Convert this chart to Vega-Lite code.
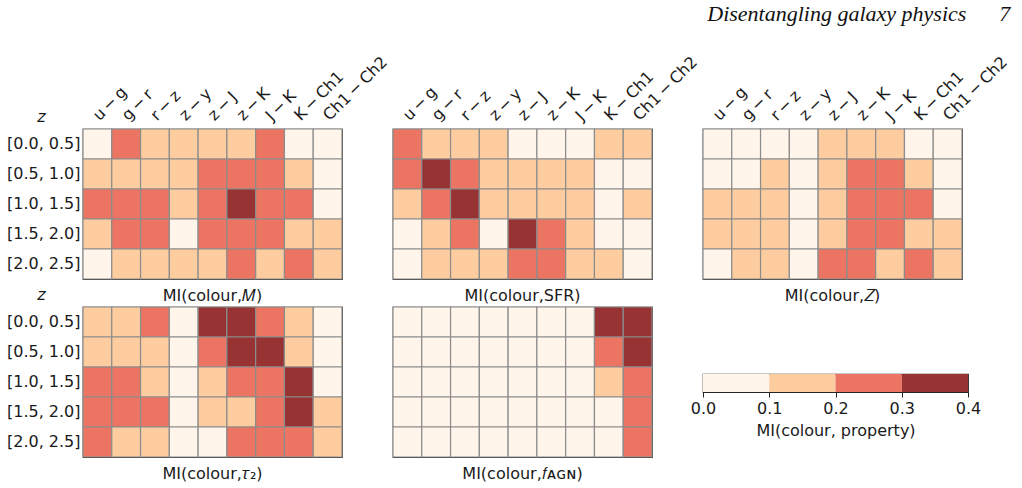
{
  "$schema": "https://vega.github.io/schema/vega-lite/v6.json",
  "padding": {"top": 2, "left": 5, "right": 5, "bottom": 5},
  "title": {"text": "Disentangling galaxy physics\u00a0\u00a0\u00a0\u00a0\u00a0\u00a07", "anchor": "end", "frame": "bounds", "font": "Liberation Serif", "fontStyle": "italic", "fontSize": 22, "fontWeight": "normal", "color": "#111", "offset": 27},
  "datasets": {
    "M": [
      {"z":"[0.0, 0.5]","c":"u−g","mi":0.05},{"z":"[0.0, 0.5]","c":"g−r","mi":0.25},{"z":"[0.0, 0.5]","c":"r−z","mi":0.15},{"z":"[0.0, 0.5]","c":"z−y","mi":0.15},{"z":"[0.0, 0.5]","c":"z−J","mi":0.15},{"z":"[0.0, 0.5]","c":"z−K","mi":0.15},{"z":"[0.0, 0.5]","c":"J−K","mi":0.25},{"z":"[0.0, 0.5]","c":"K−Ch1","mi":0.05},{"z":"[0.0, 0.5]","c":"Ch1−Ch2","mi":0.05},
      {"z":"[0.5, 1.0]","c":"u−g","mi":0.15},{"z":"[0.5, 1.0]","c":"g−r","mi":0.15},{"z":"[0.5, 1.0]","c":"r−z","mi":0.15},{"z":"[0.5, 1.0]","c":"z−y","mi":0.15},{"z":"[0.5, 1.0]","c":"z−J","mi":0.25},{"z":"[0.5, 1.0]","c":"z−K","mi":0.25},{"z":"[0.5, 1.0]","c":"J−K","mi":0.25},{"z":"[0.5, 1.0]","c":"K−Ch1","mi":0.15},{"z":"[0.5, 1.0]","c":"Ch1−Ch2","mi":0.05},
      {"z":"[1.0, 1.5]","c":"u−g","mi":0.25},{"z":"[1.0, 1.5]","c":"g−r","mi":0.25},{"z":"[1.0, 1.5]","c":"r−z","mi":0.25},{"z":"[1.0, 1.5]","c":"z−y","mi":0.15},{"z":"[1.0, 1.5]","c":"z−J","mi":0.25},{"z":"[1.0, 1.5]","c":"z−K","mi":0.35},{"z":"[1.0, 1.5]","c":"J−K","mi":0.25},{"z":"[1.0, 1.5]","c":"K−Ch1","mi":0.25},{"z":"[1.0, 1.5]","c":"Ch1−Ch2","mi":0.05},
      {"z":"[1.5, 2.0]","c":"u−g","mi":0.15},{"z":"[1.5, 2.0]","c":"g−r","mi":0.25},{"z":"[1.5, 2.0]","c":"r−z","mi":0.25},{"z":"[1.5, 2.0]","c":"z−y","mi":0.05},{"z":"[1.5, 2.0]","c":"z−J","mi":0.25},{"z":"[1.5, 2.0]","c":"z−K","mi":0.25},{"z":"[1.5, 2.0]","c":"J−K","mi":0.25},{"z":"[1.5, 2.0]","c":"K−Ch1","mi":0.15},{"z":"[1.5, 2.0]","c":"Ch1−Ch2","mi":0.15},
      {"z":"[2.0, 2.5]","c":"u−g","mi":0.05},{"z":"[2.0, 2.5]","c":"g−r","mi":0.15},{"z":"[2.0, 2.5]","c":"r−z","mi":0.15},{"z":"[2.0, 2.5]","c":"z−y","mi":0.15},{"z":"[2.0, 2.5]","c":"z−J","mi":0.15},{"z":"[2.0, 2.5]","c":"z−K","mi":0.25},{"z":"[2.0, 2.5]","c":"J−K","mi":0.15},{"z":"[2.0, 2.5]","c":"K−Ch1","mi":0.25},{"z":"[2.0, 2.5]","c":"Ch1−Ch2","mi":0.15}
    ],
    "SFR": [
      {"z":"[0.0, 0.5]","c":"u−g","mi":0.25},{"z":"[0.0, 0.5]","c":"g−r","mi":0.15},{"z":"[0.0, 0.5]","c":"r−z","mi":0.15},{"z":"[0.0, 0.5]","c":"z−y","mi":0.15},{"z":"[0.0, 0.5]","c":"z−J","mi":0.05},{"z":"[0.0, 0.5]","c":"z−K","mi":0.05},{"z":"[0.0, 0.5]","c":"J−K","mi":0.05},{"z":"[0.0, 0.5]","c":"K−Ch1","mi":0.15},{"z":"[0.0, 0.5]","c":"Ch1−Ch2","mi":0.15},
      {"z":"[0.5, 1.0]","c":"u−g","mi":0.25},{"z":"[0.5, 1.0]","c":"g−r","mi":0.35},{"z":"[0.5, 1.0]","c":"r−z","mi":0.25},{"z":"[0.5, 1.0]","c":"z−y","mi":0.15},{"z":"[0.5, 1.0]","c":"z−J","mi":0.15},{"z":"[0.5, 1.0]","c":"z−K","mi":0.15},{"z":"[0.5, 1.0]","c":"J−K","mi":0.15},{"z":"[0.5, 1.0]","c":"K−Ch1","mi":0.05},{"z":"[0.5, 1.0]","c":"Ch1−Ch2","mi":0.05},
      {"z":"[1.0, 1.5]","c":"u−g","mi":0.15},{"z":"[1.0, 1.5]","c":"g−r","mi":0.25},{"z":"[1.0, 1.5]","c":"r−z","mi":0.35},{"z":"[1.0, 1.5]","c":"z−y","mi":0.15},{"z":"[1.0, 1.5]","c":"z−J","mi":0.15},{"z":"[1.0, 1.5]","c":"z−K","mi":0.15},{"z":"[1.0, 1.5]","c":"J−K","mi":0.15},{"z":"[1.0, 1.5]","c":"K−Ch1","mi":0.05},{"z":"[1.0, 1.5]","c":"Ch1−Ch2","mi":0.15},
      {"z":"[1.5, 2.0]","c":"u−g","mi":0.05},{"z":"[1.5, 2.0]","c":"g−r","mi":0.15},{"z":"[1.5, 2.0]","c":"r−z","mi":0.25},{"z":"[1.5, 2.0]","c":"z−y","mi":0.05},{"z":"[1.5, 2.0]","c":"z−J","mi":0.35},{"z":"[1.5, 2.0]","c":"z−K","mi":0.25},{"z":"[1.5, 2.0]","c":"J−K","mi":0.15},{"z":"[1.5, 2.0]","c":"K−Ch1","mi":0.05},{"z":"[1.5, 2.0]","c":"Ch1−Ch2","mi":0.05},
      {"z":"[2.0, 2.5]","c":"u−g","mi":0.05},{"z":"[2.0, 2.5]","c":"g−r","mi":0.15},{"z":"[2.0, 2.5]","c":"r−z","mi":0.15},{"z":"[2.0, 2.5]","c":"z−y","mi":0.15},{"z":"[2.0, 2.5]","c":"z−J","mi":0.25},{"z":"[2.0, 2.5]","c":"z−K","mi":0.25},{"z":"[2.0, 2.5]","c":"J−K","mi":0.15},{"z":"[2.0, 2.5]","c":"K−Ch1","mi":0.15},{"z":"[2.0, 2.5]","c":"Ch1−Ch2","mi":0.05}
    ],
    "Z": [
      {"z":"[0.0, 0.5]","c":"u−g","mi":0.05},{"z":"[0.0, 0.5]","c":"g−r","mi":0.05},{"z":"[0.0, 0.5]","c":"r−z","mi":0.05},{"z":"[0.0, 0.5]","c":"z−y","mi":0.05},{"z":"[0.0, 0.5]","c":"z−J","mi":0.15},{"z":"[0.0, 0.5]","c":"z−K","mi":0.15},{"z":"[0.0, 0.5]","c":"J−K","mi":0.15},{"z":"[0.0, 0.5]","c":"K−Ch1","mi":0.05},{"z":"[0.0, 0.5]","c":"Ch1−Ch2","mi":0.05},
      {"z":"[0.5, 1.0]","c":"u−g","mi":0.05},{"z":"[0.5, 1.0]","c":"g−r","mi":0.05},{"z":"[0.5, 1.0]","c":"r−z","mi":0.15},{"z":"[0.5, 1.0]","c":"z−y","mi":0.05},{"z":"[0.5, 1.0]","c":"z−J","mi":0.15},{"z":"[0.5, 1.0]","c":"z−K","mi":0.25},{"z":"[0.5, 1.0]","c":"J−K","mi":0.25},{"z":"[0.5, 1.0]","c":"K−Ch1","mi":0.15},{"z":"[0.5, 1.0]","c":"Ch1−Ch2","mi":0.05},
      {"z":"[1.0, 1.5]","c":"u−g","mi":0.15},{"z":"[1.0, 1.5]","c":"g−r","mi":0.15},{"z":"[1.0, 1.5]","c":"r−z","mi":0.15},{"z":"[1.0, 1.5]","c":"z−y","mi":0.05},{"z":"[1.0, 1.5]","c":"z−J","mi":0.15},{"z":"[1.0, 1.5]","c":"z−K","mi":0.25},{"z":"[1.0, 1.5]","c":"J−K","mi":0.25},{"z":"[1.0, 1.5]","c":"K−Ch1","mi":0.25},{"z":"[1.0, 1.5]","c":"Ch1−Ch2","mi":0.05},
      {"z":"[1.5, 2.0]","c":"u−g","mi":0.15},{"z":"[1.5, 2.0]","c":"g−r","mi":0.15},{"z":"[1.5, 2.0]","c":"r−z","mi":0.15},{"z":"[1.5, 2.0]","c":"z−y","mi":0.05},{"z":"[1.5, 2.0]","c":"z−J","mi":0.15},{"z":"[1.5, 2.0]","c":"z−K","mi":0.25},{"z":"[1.5, 2.0]","c":"J−K","mi":0.25},{"z":"[1.5, 2.0]","c":"K−Ch1","mi":0.15},{"z":"[1.5, 2.0]","c":"Ch1−Ch2","mi":0.15},
      {"z":"[2.0, 2.5]","c":"u−g","mi":0.05},{"z":"[2.0, 2.5]","c":"g−r","mi":0.15},{"z":"[2.0, 2.5]","c":"r−z","mi":0.15},{"z":"[2.0, 2.5]","c":"z−y","mi":0.05},{"z":"[2.0, 2.5]","c":"z−J","mi":0.25},{"z":"[2.0, 2.5]","c":"z−K","mi":0.25},{"z":"[2.0, 2.5]","c":"J−K","mi":0.15},{"z":"[2.0, 2.5]","c":"K−Ch1","mi":0.25},{"z":"[2.0, 2.5]","c":"Ch1−Ch2","mi":0.15}
    ],
    "tau": [
      {"z":"[0.0, 0.5]","c":"u−g","mi":0.15},{"z":"[0.0, 0.5]","c":"g−r","mi":0.15},{"z":"[0.0, 0.5]","c":"r−z","mi":0.25},{"z":"[0.0, 0.5]","c":"z−y","mi":0.05},{"z":"[0.0, 0.5]","c":"z−J","mi":0.35},{"z":"[0.0, 0.5]","c":"z−K","mi":0.35},{"z":"[0.0, 0.5]","c":"J−K","mi":0.25},{"z":"[0.0, 0.5]","c":"K−Ch1","mi":0.15},{"z":"[0.0, 0.5]","c":"Ch1−Ch2","mi":0.05},
      {"z":"[0.5, 1.0]","c":"u−g","mi":0.15},{"z":"[0.5, 1.0]","c":"g−r","mi":0.15},{"z":"[0.5, 1.0]","c":"r−z","mi":0.15},{"z":"[0.5, 1.0]","c":"z−y","mi":0.05},{"z":"[0.5, 1.0]","c":"z−J","mi":0.25},{"z":"[0.5, 1.0]","c":"z−K","mi":0.35},{"z":"[0.5, 1.0]","c":"J−K","mi":0.35},{"z":"[0.5, 1.0]","c":"K−Ch1","mi":0.15},{"z":"[0.5, 1.0]","c":"Ch1−Ch2","mi":0.05},
      {"z":"[1.0, 1.5]","c":"u−g","mi":0.25},{"z":"[1.0, 1.5]","c":"g−r","mi":0.25},{"z":"[1.0, 1.5]","c":"r−z","mi":0.15},{"z":"[1.0, 1.5]","c":"z−y","mi":0.05},{"z":"[1.0, 1.5]","c":"z−J","mi":0.15},{"z":"[1.0, 1.5]","c":"z−K","mi":0.25},{"z":"[1.0, 1.5]","c":"J−K","mi":0.25},{"z":"[1.0, 1.5]","c":"K−Ch1","mi":0.35},{"z":"[1.0, 1.5]","c":"Ch1−Ch2","mi":0.05},
      {"z":"[1.5, 2.0]","c":"u−g","mi":0.25},{"z":"[1.5, 2.0]","c":"g−r","mi":0.25},{"z":"[1.5, 2.0]","c":"r−z","mi":0.25},{"z":"[1.5, 2.0]","c":"z−y","mi":0.05},{"z":"[1.5, 2.0]","c":"z−J","mi":0.15},{"z":"[1.5, 2.0]","c":"z−K","mi":0.15},{"z":"[1.5, 2.0]","c":"J−K","mi":0.25},{"z":"[1.5, 2.0]","c":"K−Ch1","mi":0.35},{"z":"[1.5, 2.0]","c":"Ch1−Ch2","mi":0.15},
      {"z":"[2.0, 2.5]","c":"u−g","mi":0.25},{"z":"[2.0, 2.5]","c":"g−r","mi":0.15},{"z":"[2.0, 2.5]","c":"r−z","mi":0.15},{"z":"[2.0, 2.5]","c":"z−y","mi":0.05},{"z":"[2.0, 2.5]","c":"z−J","mi":0.05},{"z":"[2.0, 2.5]","c":"z−K","mi":0.25},{"z":"[2.0, 2.5]","c":"J−K","mi":0.25},{"z":"[2.0, 2.5]","c":"K−Ch1","mi":0.25},{"z":"[2.0, 2.5]","c":"Ch1−Ch2","mi":0.15}
    ],
    "fagn": [
      {"z":"[0.0, 0.5]","c":"u−g","mi":0.05},{"z":"[0.0, 0.5]","c":"g−r","mi":0.05},{"z":"[0.0, 0.5]","c":"r−z","mi":0.05},{"z":"[0.0, 0.5]","c":"z−y","mi":0.05},{"z":"[0.0, 0.5]","c":"z−J","mi":0.05},{"z":"[0.0, 0.5]","c":"z−K","mi":0.05},{"z":"[0.0, 0.5]","c":"J−K","mi":0.05},{"z":"[0.0, 0.5]","c":"K−Ch1","mi":0.35},{"z":"[0.0, 0.5]","c":"Ch1−Ch2","mi":0.35},
      {"z":"[0.5, 1.0]","c":"u−g","mi":0.05},{"z":"[0.5, 1.0]","c":"g−r","mi":0.05},{"z":"[0.5, 1.0]","c":"r−z","mi":0.05},{"z":"[0.5, 1.0]","c":"z−y","mi":0.05},{"z":"[0.5, 1.0]","c":"z−J","mi":0.05},{"z":"[0.5, 1.0]","c":"z−K","mi":0.05},{"z":"[0.5, 1.0]","c":"J−K","mi":0.05},{"z":"[0.5, 1.0]","c":"K−Ch1","mi":0.25},{"z":"[0.5, 1.0]","c":"Ch1−Ch2","mi":0.35},
      {"z":"[1.0, 1.5]","c":"u−g","mi":0.05},{"z":"[1.0, 1.5]","c":"g−r","mi":0.05},{"z":"[1.0, 1.5]","c":"r−z","mi":0.05},{"z":"[1.0, 1.5]","c":"z−y","mi":0.05},{"z":"[1.0, 1.5]","c":"z−J","mi":0.05},{"z":"[1.0, 1.5]","c":"z−K","mi":0.05},{"z":"[1.0, 1.5]","c":"J−K","mi":0.05},{"z":"[1.0, 1.5]","c":"K−Ch1","mi":0.15},{"z":"[1.0, 1.5]","c":"Ch1−Ch2","mi":0.25},
      {"z":"[1.5, 2.0]","c":"u−g","mi":0.05},{"z":"[1.5, 2.0]","c":"g−r","mi":0.05},{"z":"[1.5, 2.0]","c":"r−z","mi":0.05},{"z":"[1.5, 2.0]","c":"z−y","mi":0.05},{"z":"[1.5, 2.0]","c":"z−J","mi":0.05},{"z":"[1.5, 2.0]","c":"z−K","mi":0.05},{"z":"[1.5, 2.0]","c":"J−K","mi":0.05},{"z":"[1.5, 2.0]","c":"K−Ch1","mi":0.05},{"z":"[1.5, 2.0]","c":"Ch1−Ch2","mi":0.25},
      {"z":"[2.0, 2.5]","c":"u−g","mi":0.05},{"z":"[2.0, 2.5]","c":"g−r","mi":0.05},{"z":"[2.0, 2.5]","c":"r−z","mi":0.05},{"z":"[2.0, 2.5]","c":"z−y","mi":0.05},{"z":"[2.0, 2.5]","c":"z−J","mi":0.05},{"z":"[2.0, 2.5]","c":"z−K","mi":0.05},{"z":"[2.0, 2.5]","c":"J−K","mi":0.05},{"z":"[2.0, 2.5]","c":"K−Ch1","mi":0.05},{"z":"[2.0, 2.5]","c":"Ch1−Ch2","mi":0.25}
    ],
    "bar": [
      {"lo":0.0,"hi":0.1},{"lo":0.1,"hi":0.2},{"lo":0.2,"hi":0.3},{"lo":0.3,"hi":0.4}
    ]
  },
  "columns": 3,
  "spacing": {"row": 28, "column": 51},
  "bounds": "flush",
  "align": "all",
  "concat": [
    {
      "width": 259, "height": 150,
      "data": {"name": "M"},
      "title": {"text": "MI(colour,𝑀)", "orient": "bottom", "frame": "group", "offset": 8},
      "mark": {"type": "rect", "stroke": "#8c8c8c", "strokeWidth": 1.2},
      "encoding": {
        "x": {"field": "c", "type": "nominal", "sort": ["u−g","g−r","r−z","z−y","z−J","z−K","J−K","K−Ch1","Ch1−Ch2"], "scale": {"paddingInner": 0, "paddingOuter": 0},
              "axis": {"orient": "top", "title": null, "labelExpr": "replace(datum.label, '−', '\u2009−\u2009')", "labelAngle": -45, "labelAlign": "left", "labelBaseline": "alphabetic", "ticks": false, "tickSize": 0, "domain": false, "labelPadding": 8, "labelOffset": 2}},
        "y": {"field": "z", "type": "nominal", "sort": ["[0.0, 0.5]","[0.5, 1.0]","[1.0, 1.5]","[1.5, 2.0]","[2.0, 2.5]"], "scale": {"paddingInner": 0, "paddingOuter": 0},
              "axis": {"title": "z", "titleAngle": 0, "titleFontStyle": "italic", "titleAlign": "center", "titleBaseline": "alphabetic", "titleX": -42, "titleY": -8, "ticks": false, "tickSize": 0, "domain": false, "labelPadding": 3}},
        "color": {"field": "mi", "type": "quantitative", "scale": {"type": "threshold", "domain": [0.1, 0.2, 0.3], "range": ["#fff5eb", "#fdcda0", "#eb7562", "#983334"]}, "legend": null}
      }
    },
    {
      "width": 259, "height": 150,
      "data": {"name": "SFR"},
      "title": {"text": "MI(colour,SFR)", "orient": "bottom", "frame": "group", "offset": 8},
      "mark": {"type": "rect", "stroke": "#8c8c8c", "strokeWidth": 1.2},
      "encoding": {
        "x": {"field": "c", "type": "nominal", "sort": ["u−g","g−r","r−z","z−y","z−J","z−K","J−K","K−Ch1","Ch1−Ch2"], "scale": {"paddingInner": 0, "paddingOuter": 0},
              "axis": {"orient": "top", "title": null, "labelExpr": "replace(datum.label, '−', '\u2009−\u2009')", "labelAngle": -45, "labelAlign": "left", "labelBaseline": "alphabetic", "ticks": false, "tickSize": 0, "domain": false, "labelPadding": 8, "labelOffset": 2}},
        "y": {"field": "z", "type": "nominal", "sort": ["[0.0, 0.5]","[0.5, 1.0]","[1.0, 1.5]","[1.5, 2.0]","[2.0, 2.5]"], "scale": {"paddingInner": 0, "paddingOuter": 0}, "axis": null},
        "color": {"field": "mi", "type": "quantitative", "scale": {"type": "threshold", "domain": [0.1, 0.2, 0.3], "range": ["#fff5eb", "#fdcda0", "#eb7562", "#983334"]}, "legend": null}
      }
    },
    {
      "width": 259, "height": 150,
      "data": {"name": "Z"},
      "title": {"text": "MI(colour,𝑍)", "orient": "bottom", "frame": "group", "offset": 8},
      "mark": {"type": "rect", "stroke": "#8c8c8c", "strokeWidth": 1.2},
      "encoding": {
        "x": {"field": "c", "type": "nominal", "sort": ["u−g","g−r","r−z","z−y","z−J","z−K","J−K","K−Ch1","Ch1−Ch2"], "scale": {"paddingInner": 0, "paddingOuter": 0},
              "axis": {"orient": "top", "title": null, "labelExpr": "replace(datum.label, '−', '\u2009−\u2009')", "labelAngle": -45, "labelAlign": "left", "labelBaseline": "alphabetic", "ticks": false, "tickSize": 0, "domain": false, "labelPadding": 8, "labelOffset": 2}},
        "y": {"field": "z", "type": "nominal", "sort": ["[0.0, 0.5]","[0.5, 1.0]","[1.0, 1.5]","[1.5, 2.0]","[2.0, 2.5]"], "scale": {"paddingInner": 0, "paddingOuter": 0}, "axis": null},
        "color": {"field": "mi", "type": "quantitative", "scale": {"type": "threshold", "domain": [0.1, 0.2, 0.3], "range": ["#fff5eb", "#fdcda0", "#eb7562", "#983334"]}, "legend": null}
      }
    },
    {
      "width": 259, "height": 150,
      "data": {"name": "tau"},
      "title": {"text": "MI(colour,𝜏₂)", "orient": "bottom", "frame": "group", "offset": 8},
      "mark": {"type": "rect", "stroke": "#8c8c8c", "strokeWidth": 1.2},
      "encoding": {
        "x": {"field": "c", "type": "nominal", "sort": ["u−g","g−r","r−z","z−y","z−J","z−K","J−K","K−Ch1","Ch1−Ch2"], "scale": {"paddingInner": 0, "paddingOuter": 0}, "axis": null},
        "y": {"field": "z", "type": "nominal", "sort": ["[0.0, 0.5]","[0.5, 1.0]","[1.0, 1.5]","[1.5, 2.0]","[2.0, 2.5]"], "scale": {"paddingInner": 0, "paddingOuter": 0},
              "axis": {"title": "z", "titleAngle": 0, "titleFontStyle": "italic", "titleAlign": "center", "titleBaseline": "alphabetic", "titleX": -42, "titleY": -8, "ticks": false, "tickSize": 0, "domain": false, "labelPadding": 3}},
        "color": {"field": "mi", "type": "quantitative", "scale": {"type": "threshold", "domain": [0.1, 0.2, 0.3], "range": ["#fff5eb", "#fdcda0", "#eb7562", "#983334"]}, "legend": null}
      }
    },
    {
      "width": 259, "height": 150,
      "data": {"name": "fagn"},
      "title": {"text": "MI(colour,𝑓ᴀɢɴ)", "orient": "bottom", "frame": "group", "offset": 8},
      "mark": {"type": "rect", "stroke": "#8c8c8c", "strokeWidth": 1.2},
      "encoding": {
        "x": {"field": "c", "type": "nominal", "sort": ["u−g","g−r","r−z","z−y","z−J","z−K","J−K","K−Ch1","Ch1−Ch2"], "scale": {"paddingInner": 0, "paddingOuter": 0}, "axis": null},
        "y": {"field": "z", "type": "nominal", "sort": ["[0.0, 0.5]","[0.5, 1.0]","[1.0, 1.5]","[1.5, 2.0]","[2.0, 2.5]"], "scale": {"paddingInner": 0, "paddingOuter": 0}, "axis": null},
        "color": {"field": "mi", "type": "quantitative", "scale": {"type": "threshold", "domain": [0.1, 0.2, 0.3], "range": ["#fff5eb", "#fdcda0", "#eb7562", "#983334"]}, "legend": null}
      }
    },
    {
      "spacing": 0,
      "bounds": "flush",
      "vconcat": [
        {
          "width": 265, "height": 67,
          "data": {"values": [{}]},
          "mark": {"type": "text", "text": ""},
          "view": {"stroke": null}
        },
        {
          "width": 265, "height": 18,
          "data": {"name": "bar"},
          "mark": {"type": "rect"},
          "encoding": {
            "x": {"field": "lo", "type": "quantitative", "scale": {"domain": [0, 0.4], "nice": false, "zero": false},
                  "axis": {"values": [0, 0.1, 0.2, 0.3, 0.4], "format": ".1f", "title": "MI(colour, property)", "grid": false, "domain": false, "ticks": true, "tickSize": 5, "tickColor": "#222", "labelFlush": false, "labelPadding": 3, "titlePadding": 6}},
            "x2": {"field": "hi"},
            "color": {"field": "lo", "type": "quantitative", "scale": {"type": "threshold", "domain": [0.1, 0.2, 0.3], "range": ["#fff5eb", "#fdcda0", "#eb7562", "#983334"]}, "legend": null}
          }
        }
      ]
    }
  ],
  "config": {
    "font": "DejaVu Sans",
    "view": {"stroke": "#262626", "strokeWidth": 1.2},
    "axis": {"labelFont": "DejaVu Sans", "labelFontSize": 16, "labelColor": "#1a1a1a", "titleFont": "DejaVu Sans", "titleFontSize": 16, "titleFontWeight": "normal", "titleColor": "#1a1a1a"},
    "title": {"font": "DejaVu Sans", "fontSize": 16, "fontWeight": "normal", "color": "#1a1a1a"}
  }
}
